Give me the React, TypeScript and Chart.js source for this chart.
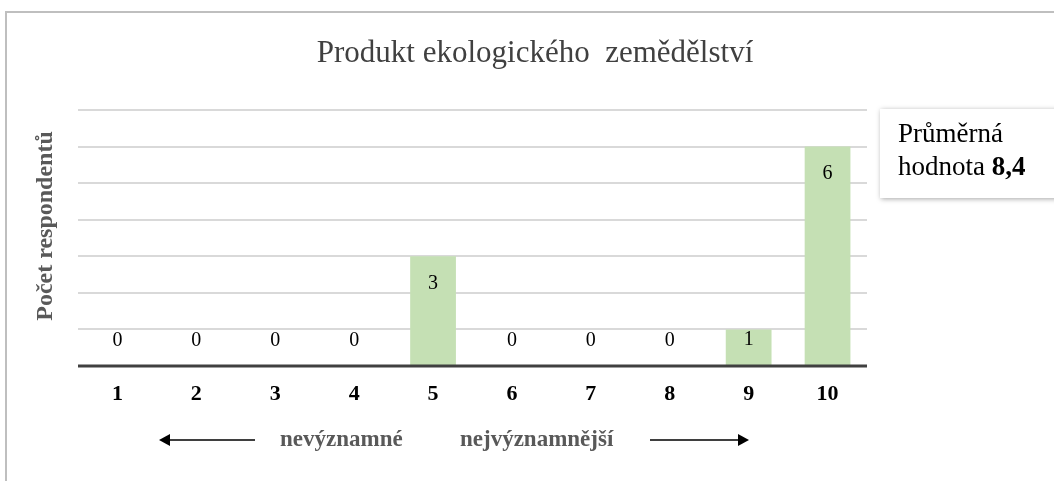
import React, { useEffect, useRef } from "react";
import { Chart, registerables } from "chart.js";

Chart.register(...registerables);

const categories = ["1", "2", "3", "4", "5", "6", "7", "8", "9", "10"];
const respondents = [0, 0, 0, 0, 3, 0, 0, 0, 1, 6];
const chartTitle = "Produkt ekologického  zemědělství";
const yAxisTitle = "Počet respondentů";
const noteLine1 = "Průměrná";
const noteLine2a = "hodnota ";
const noteLine2b = "8,4";
const leftHint = "nevýznamné";
const rightHint = "nejvýznamnější";

const SERIF = "'Liberation Serif', 'Times New Roman', serif";

const decorPlugin = {
  id: "decor",
  beforeDraw(chart: any) {
    const ctx = chart.ctx;
    ctx.save();
    ctx.fillStyle = "#ffffff";
    ctx.fillRect(0, 0, chart.width, chart.height);
    ctx.strokeStyle = "#bfbfbf";
    ctx.lineWidth = 2;
    ctx.beginPath();
    ctx.moveTo(6, chart.height + 2);
    ctx.lineTo(6, 12);
    ctx.lineTo(chart.width + 2, 12);
    ctx.stroke();
    ctx.restore();
  },
  afterDatasetsDraw(chart: any) {
    const ctx = chart.ctx;
    const area = chart.chartArea;
    ctx.save();
    // baseline
    ctx.strokeStyle = "#404040";
    ctx.lineWidth = 3;
    ctx.beginPath();
    ctx.moveTo(area.left, area.bottom);
    ctx.lineTo(area.right, area.bottom);
    ctx.stroke();

    // data labels
    const meta = chart.getDatasetMeta(0);
    ctx.font = "20px " + SERIF;
    ctx.fillStyle = "#000000";
    ctx.textAlign = "center";
    ctx.textBaseline = "middle";
    meta.data.forEach((el: any, i: number) => {
      const v = chart.data.datasets[0].data[i];
      const y = Math.min(el.y + 27, el.base - 25);
      ctx.fillText(String(v), el.x, y);
    });

    // title
    ctx.font = "31px " + SERIF;
    ctx.fillStyle = "#404040";
    ctx.textBaseline = "alphabetic";
    ctx.fillText(chartTitle, 535, 62);

    // y axis title
    ctx.save();
    ctx.translate(46, 226);
    ctx.rotate(-Math.PI / 2);
    ctx.font = "bold 24px " + SERIF;
    ctx.fillStyle = "#595959";
    ctx.textBaseline = "middle";
    ctx.fillText(yAxisTitle, 0, 0);
    ctx.restore();

    // note box
    ctx.save();
    ctx.shadowColor = "rgba(0,0,0,0.35)";
    ctx.shadowBlur = 5;
    ctx.shadowOffsetX = 1;
    ctx.shadowOffsetY = 1;
    ctx.fillStyle = "#ffffff";
    ctx.fillRect(880, 109, 190, 89);
    ctx.restore();
    ctx.textAlign = "left";
    ctx.textBaseline = "alphabetic";
    ctx.fillStyle = "#000000";
    ctx.font = "27px " + SERIF;
    ctx.fillText(noteLine1, 898, 142);
    ctx.fillText(noteLine2a, 898, 175);
    const w = ctx.measureText(noteLine2a).width;
    ctx.font = "bold 27px " + SERIF;
    ctx.fillText(noteLine2b, 898 + w, 175);

    // bottom hints
    ctx.font = "bold 23px " + SERIF;
    ctx.fillStyle = "#595959";
    ctx.textBaseline = "middle";
    ctx.textAlign = "left";
    ctx.fillText(leftHint, 280, 440);
    ctx.fillText(rightHint, 460, 440);

    ctx.strokeStyle = "#000000";
    ctx.fillStyle = "#000000";
    ctx.lineWidth = 1.5;
    ctx.beginPath();
    ctx.moveTo(168, 440);
    ctx.lineTo(255, 440);
    ctx.moveTo(650, 440);
    ctx.lineTo(740, 440);
    ctx.stroke();
    ctx.beginPath();
    ctx.moveTo(159, 440);
    ctx.lineTo(170, 434);
    ctx.lineTo(170, 446);
    ctx.closePath();
    ctx.fill();
    ctx.beginPath();
    ctx.moveTo(749, 440);
    ctx.lineTo(738, 434);
    ctx.lineTo(738, 446);
    ctx.closePath();
    ctx.fill();
    ctx.restore();
  },
};

export default function App() {
  const ref = useRef<HTMLCanvasElement | null>(null);
  useEffect(() => {
    if (!ref.current) return;
    const chart = new Chart(ref.current, {
      type: "bar",
      data: {
        labels: categories,
        datasets: [
          {
            data: respondents,
            backgroundColor: "#c5e0b4",
            borderWidth: 0,
            categoryPercentage: 1,
            barPercentage: 0.58,
          },
        ],
      },
      options: {
        animation: false,
        responsive: false,
        maintainAspectRatio: false,
        layout: { padding: { left: 78, right: 187, top: 110, bottom: 66.6 } },
        plugins: {
          legend: { display: false },
          title: { display: false },
          tooltip: { enabled: false },
        },
        scales: {
          x: {
            grid: { display: false },
            border: { display: false },
            ticks: {
              color: "#000000",
              padding: 7,
              font: { family: SERIF, size: 22, weight: "bold" },
            },
          },
          y: {
            min: 0,
            max: 7,
            ticks: { display: false, stepSize: 1 },
            grid: { color: "#d9d9d9", lineWidth: 2, drawTicks: false },
            border: { display: false },
          },
        },
      },
      plugins: [decorPlugin],
    });
    return () => chart.destroy();
  }, []);
  return (
    <div style={{ position: "fixed", left: 0, top: 0, width: 1054, height: 481, background: "#fff" }}>
      <canvas ref={ref} width={1054} height={481} style={{ width: 1054, height: 481 }} />
    </div>
  );
}
